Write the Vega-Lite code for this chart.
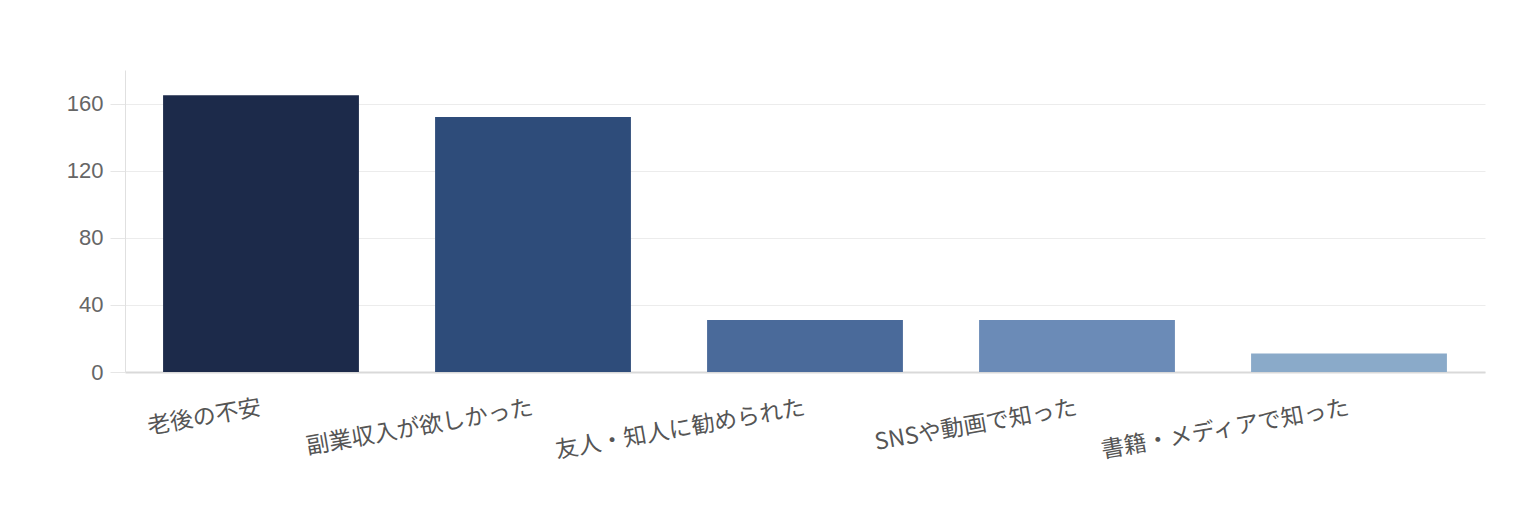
{
  "$schema": "https://vega.github.io/schema/vega-lite/v6.json",
  "autosize": {"type": "none"},
  "width": 1360,
  "height": 302,
  "padding": {"left": 125, "top": 70, "right": 47, "bottom": 148},
  "background": "#FFFFFF",
  "data": {
    "values": [
      {"reason": "老後の不安", "count": 165},
      {"reason": "副業収入が欲しかった", "count": 152},
      {"reason": "友人・知人に勧められた", "count": 31},
      {"reason": "SNSや動画で知った", "count": 31},
      {"reason": "書籍・メディアで知った", "count": 11}
    ]
  },
  "mark": {"type": "bar"},
  "encoding": {
    "x": {
      "field": "reason",
      "type": "nominal",
      "sort": null,
      "title": null,
      "scale": {"paddingInner": 0.28, "paddingOuter": 0.14},
      "axis": {
        "ticks": false,
        "labelAngle": -10,
        "labelAlign": "right",
        "labelBaseline": "middle",
        "labelPadding": 35,
        "labelLimit": 0,
        "labelFont": "Noto Sans CJK JP",
        "labelFontSize": 23,
        "labelColor": "#555555",
        "domainColor": "#d9d9d9",
        "domainWidth": 2,
        "grid": false
      }
    },
    "y": {
      "field": "count",
      "type": "quantitative",
      "title": null,
      "scale": {"domain": [0, 180], "nice": false},
      "axis": {
        "values": [0, 40, 80, 120, 160],
        "labelFont": "Liberation Sans",
        "labelFontSize": 22,
        "labelColor": "#666666",
        "labelPadding": 7,
        "tickSize": 15,
        "tickColor": "#e6e6e6",
        "gridColor": "#ececec",
        "domainColor": "#e0e0e0"
      }
    },
    "color": {
      "field": "reason",
      "type": "nominal",
      "sort": null,
      "legend": null,
      "scale": {
        "range": ["#1c2a4a", "#2e4c7a", "#4a6a9a", "#6b8bb7", "#8aaac9"]
      }
    }
  },
  "config": {"view": {"stroke": null}}
}
